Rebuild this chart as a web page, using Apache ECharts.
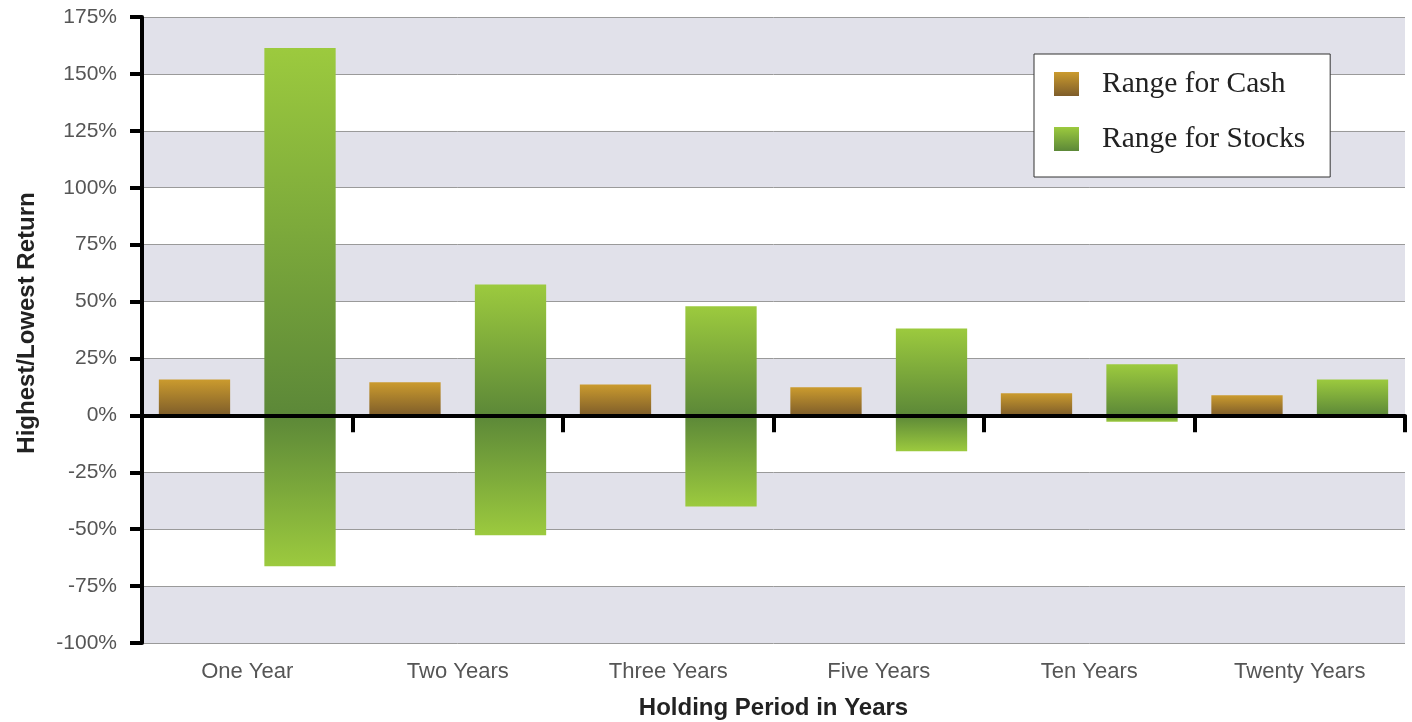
<!DOCTYPE html>
<html>
<head>
<meta charset="utf-8">
<script src="https://cdn.jsdelivr.net/npm/echarts@6/dist/echarts.min.js"></script>
<style>
html,body{margin:0;padding:0;background:#fff;}
#main{width:1412px;height:722px;}
</style>
</head>
<body>
<div id="main"></div>
<script>
var categories = ['One Year', 'Two Years', 'Three Years', 'Five Years', 'Ten Years', 'Twenty Years'];
var cashHigh = [15.8, 14.5, 13.6, 12.3, 9.7, 8.8];
var stockHigh = [161.4, 57.5, 47.9, 38.2, 22.4, 15.8];
var stockLow = [-66.3, -52.7, -40.0, -15.8, -2.8, 0];
var yMin = -100, yMax = 175, yStep = 25;

var chart = echarts.init(document.getElementById('main'));

function grad(top, bottom) {
  return new echarts.graphic.LinearGradient(0, 0, 0, 1, [
    {offset: 0, color: top}, {offset: 1, color: bottom}
  ]);
}
var cashColor = grad('#CB9B2E', '#7E5D2A');
var stockUp = grad('#9CCA3E', '#5C8838');
var stockDown = grad('#5C8838', '#9CCA3E');

var labelFont = 'Liberation Sans, Arial, sans-serif';

chart.setOption({
  animation: false,
  grid: {left: 142, right: 7, top: 17, bottom: 79, containLabel: false, outerBoundsMode: 'none'},
  legend: {
    orient: 'vertical',
    left: 1034, top: 54,
    padding: [15, 25, 23, 20],
    itemGap: 25,
    itemWidth: 25, itemHeight: 24,
    icon: 'rect',
    backgroundColor: '#fff',
    borderColor: '#333',
    borderWidth: 1,
    borderRadius: 0,
    data: ['Range for Cash', 'Range for Stocks'],
    textStyle: {
      fontFamily: 'Liberation Serif, Times New Roman, serif',
      fontSize: 29.5, color: '#222',
      padding: [0, 0, 0, 18], lineHeight: 30
    }
  },
  xAxis: [{
    type: 'category',
    data: categories,
    position: 'bottom',
    axisLine: {show: false, onZero: false},
    axisTick: {show: false},
    axisLabel: {color: '#555', fontSize: 22, fontFamily: labelFont, margin: 18},
    name: 'Holding Period in Years',
    nameLocation: 'middle',
    nameGap: 53,
    nameTextStyle: {fontWeight: 'bold', fontSize: 24, color: '#222', fontFamily: labelFont},
    splitLine: {show: false}
  }, {
    type: 'category',
    data: categories,
    position: 'bottom',
    z: 10,
    axisLine: {show: true, onZero: true, lineStyle: {color: '#000', width: 4}},
    axisTick: {show: true, length: 17, lineStyle: {color: '#000', width: 4}, alignWithLabel: false},
    axisLabel: {show: false},
    splitLine: {show: false}
  }],
  yAxis: {
    type: 'value',
    min: yMin, max: yMax, interval: yStep,
    axisLine: {show: true, lineStyle: {color: '#000', width: 4}},
    axisTick: {show: true, length: 12, lineStyle: {color: '#000', width: 4}},
    axisLabel: {color: '#555', fontSize: 21, fontFamily: labelFont, margin: 25,
      formatter: function (v) { return v + '%'; }},
    splitLine: {show: true, lineStyle: {color: '#9a9a9a', width: 1}},
    splitArea: {show: true, areaStyle: {color: ['#E1E1EA', '#FFFFFF']}},
    name: 'Highest/Lowest Return',
    nameLocation: 'middle',
    nameGap: 103,
    nameTextStyle: {fontWeight: 'bold', fontSize: 24, color: '#222', fontFamily: labelFont,
      padding: [0, 0, 0, 14]}
  },
  series: [{
    name: 'Range for Cash',
    type: 'bar',
    xAxisIndex: 0,
    data: cashHigh,
    barCategoryGap: '16%',
    barGap: '48%',
    itemStyle: {color: cashColor}
  }, {
    name: 'Range for Stocks',
    type: 'bar',
    xAxisIndex: 0,
    stack: 'stocks',
    data: stockHigh,
    barCategoryGap: '16%',
    barGap: '48%',
    itemStyle: {color: stockUp}
  }, {
    name: 'Range for Stocks',
    type: 'bar',
    xAxisIndex: 0,
    stack: 'stocks',
    data: stockLow,
    barCategoryGap: '16%',
    barGap: '48%',
    itemStyle: {color: stockDown}
  }]
});
</script>
</body>
</html>
